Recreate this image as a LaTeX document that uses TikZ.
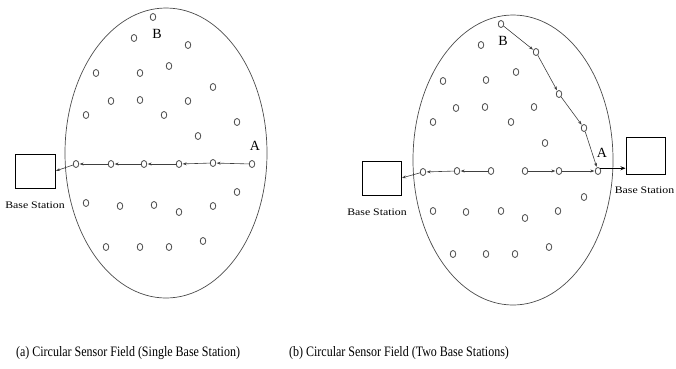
\documentclass[tikz,border=0pt]{standalone}
\usepackage{fontspec}
\setmainfont{Liberation Serif}
\usetikzlibrary{arrows.meta,calc,shapes.geometric}
\begin{document}
\begin{tikzpicture}[x=1pt,y=-1pt,
  sn/.style={draw=black!70,line width=0.8pt,ellipse,inner sep=0pt,minimum width=5.5pt,minimum height=7pt},
  bs/.style={draw,line width=1pt,inner sep=0pt},
  field/.style={draw=black!70,line width=0.7pt},
  hop/.style={draw=black!75,line width=0.6pt,-{Stealth[length=4pt,width=3pt]},shorten >=0.5pt},
  bslabel/.style={font=\fontsize{10}{10}\selectfont,xscale=1.18,inner sep=0pt},
  lbl/.style={font=\fontsize{14}{14}\selectfont,inner sep=0pt},
  captxt/.style={font=\fontsize{12}{12}\selectfont,yscale=1.2,inner sep=0pt}]
\useasboundingbox (0,0) rectangle (676,368);
% ---------------- left field ----------------
\draw[field] (166,153) ellipse [x radius=101, y radius=145];
\foreach \n/\x/\y in {a1/134/38,a2/188/45,a3/96/73,a4/140/73,a5/169/66,a6/213/87,
  a7/111/101,a8/140/100,a9/188/101,a10/86/115,a11/164/115,a12/237/122,a13/198/136,
  a14/237/192,a15/86/203,a16/120/206,a17/154/205,a18/179/212,a19/213/206,
  a20/106/247,a21/140/247,a22/169/247,a23/203/241}
  \node[sn] (\n) at (\x,\y) {};
\node[sn] (aB) at (153,17) {};
\node[lbl] (aBl) at (157,34) {B};
\node[sn] (L1) at (76,164) {};
\node[sn] (L2) at (111,164) {};
\node[sn] (L3) at (144,164) {};
\node[sn] (L4) at (179,164) {};
\node[sn] (L5) at (213,163) {};
\node[sn] (L6) at (252,164) {};
\node[lbl] (aAl) at (255,146) {A};
\node[bs,minimum width=40pt,minimum height=34pt] (bs1) at (35,171) {};
\node[bslabel] (bs1l) at (35,205) {Base Station};
\draw[hop] (L6) -- (L5);
\draw[hop] (L5) -- (L4);
\draw[hop] (L4) -- (L3);
\draw[hop] (L3) -- (L2);
\draw[hop] (L2) -- (L1);
\draw[hop] (L1) -- (bs1.east);
% ---------------- right field ----------------
\draw[field] (513,160) ellipse [x radius=100, y radius=145];
\foreach \n/\x/\y in {b1/481/45,b2/443/81,b3/486/80,b4/516/72,b5/456/108,b6/485/107,
  b7/534/107,b8/433/122,b9/511/122,b10/545/143,b11/584/197,b12/433/211,b13/466/212,
  b14/501/211,b15/525/218,b16/558/211,b17/453/254,b18/486/254,b19/515/254,b20/549/247}
  \node[sn] (\n) at (\x,\y) {};
\node[sn] (B0) at (501,24) {};
\node[lbl] (bBl) at (503,41) {B};
\node[sn] (D1) at (536,52) {};
\node[sn] (D2) at (559,94) {};
\node[sn] (D3) at (584,128) {};
\node[sn] (R1) at (423,172) {};
\node[sn] (R2) at (457,171) {};
\node[sn] (R3) at (491,171) {};
\node[sn] (R4) at (525,171) {};
\node[sn] (R5) at (559,171) {};
\node[sn] (R6) at (598,171) {};
\node[lbl] (bAl) at (602,153) {A};
\node[bs,minimum width=39pt,minimum height=34pt] (bs2) at (381.5,178) {};
\node[bslabel] (bs2l) at (377,212) {Base Station};
\node[bs,minimum width=39pt,minimum height=37pt] (bs3) at (645.5,155.5) {};
\node[bslabel] (bs3l) at (644.5,190) {Base Station};
\draw[hop] (R3) -- (R2);
\draw[hop] (R2) -- (R1);
\draw[hop] (R1) -- (bs2.east);
\draw[hop] (R4) -- (R5);
\draw[hop] (R5) -- (R6);
\draw[hop] (B0) -- (D1);
\draw[hop] (D1) -- (D2);
\draw[hop] (D2) -- (D3);
\draw[hop] (D3) -- (R6);
\draw[line width=1pt,-{Stealth[length=5pt,width=4pt]}] (R6.north east) -- (R6.north east -| bs3.west);
% ---------------- captions ----------------
\node[captxt] (capa) at (128,353) {(a) Circular Sensor Field (Single Base Station)};
\node[captxt] (capb) at (399,353) {(b) Circular Sensor Field (Two Base Stations)};
\end{tikzpicture}
\end{document}
